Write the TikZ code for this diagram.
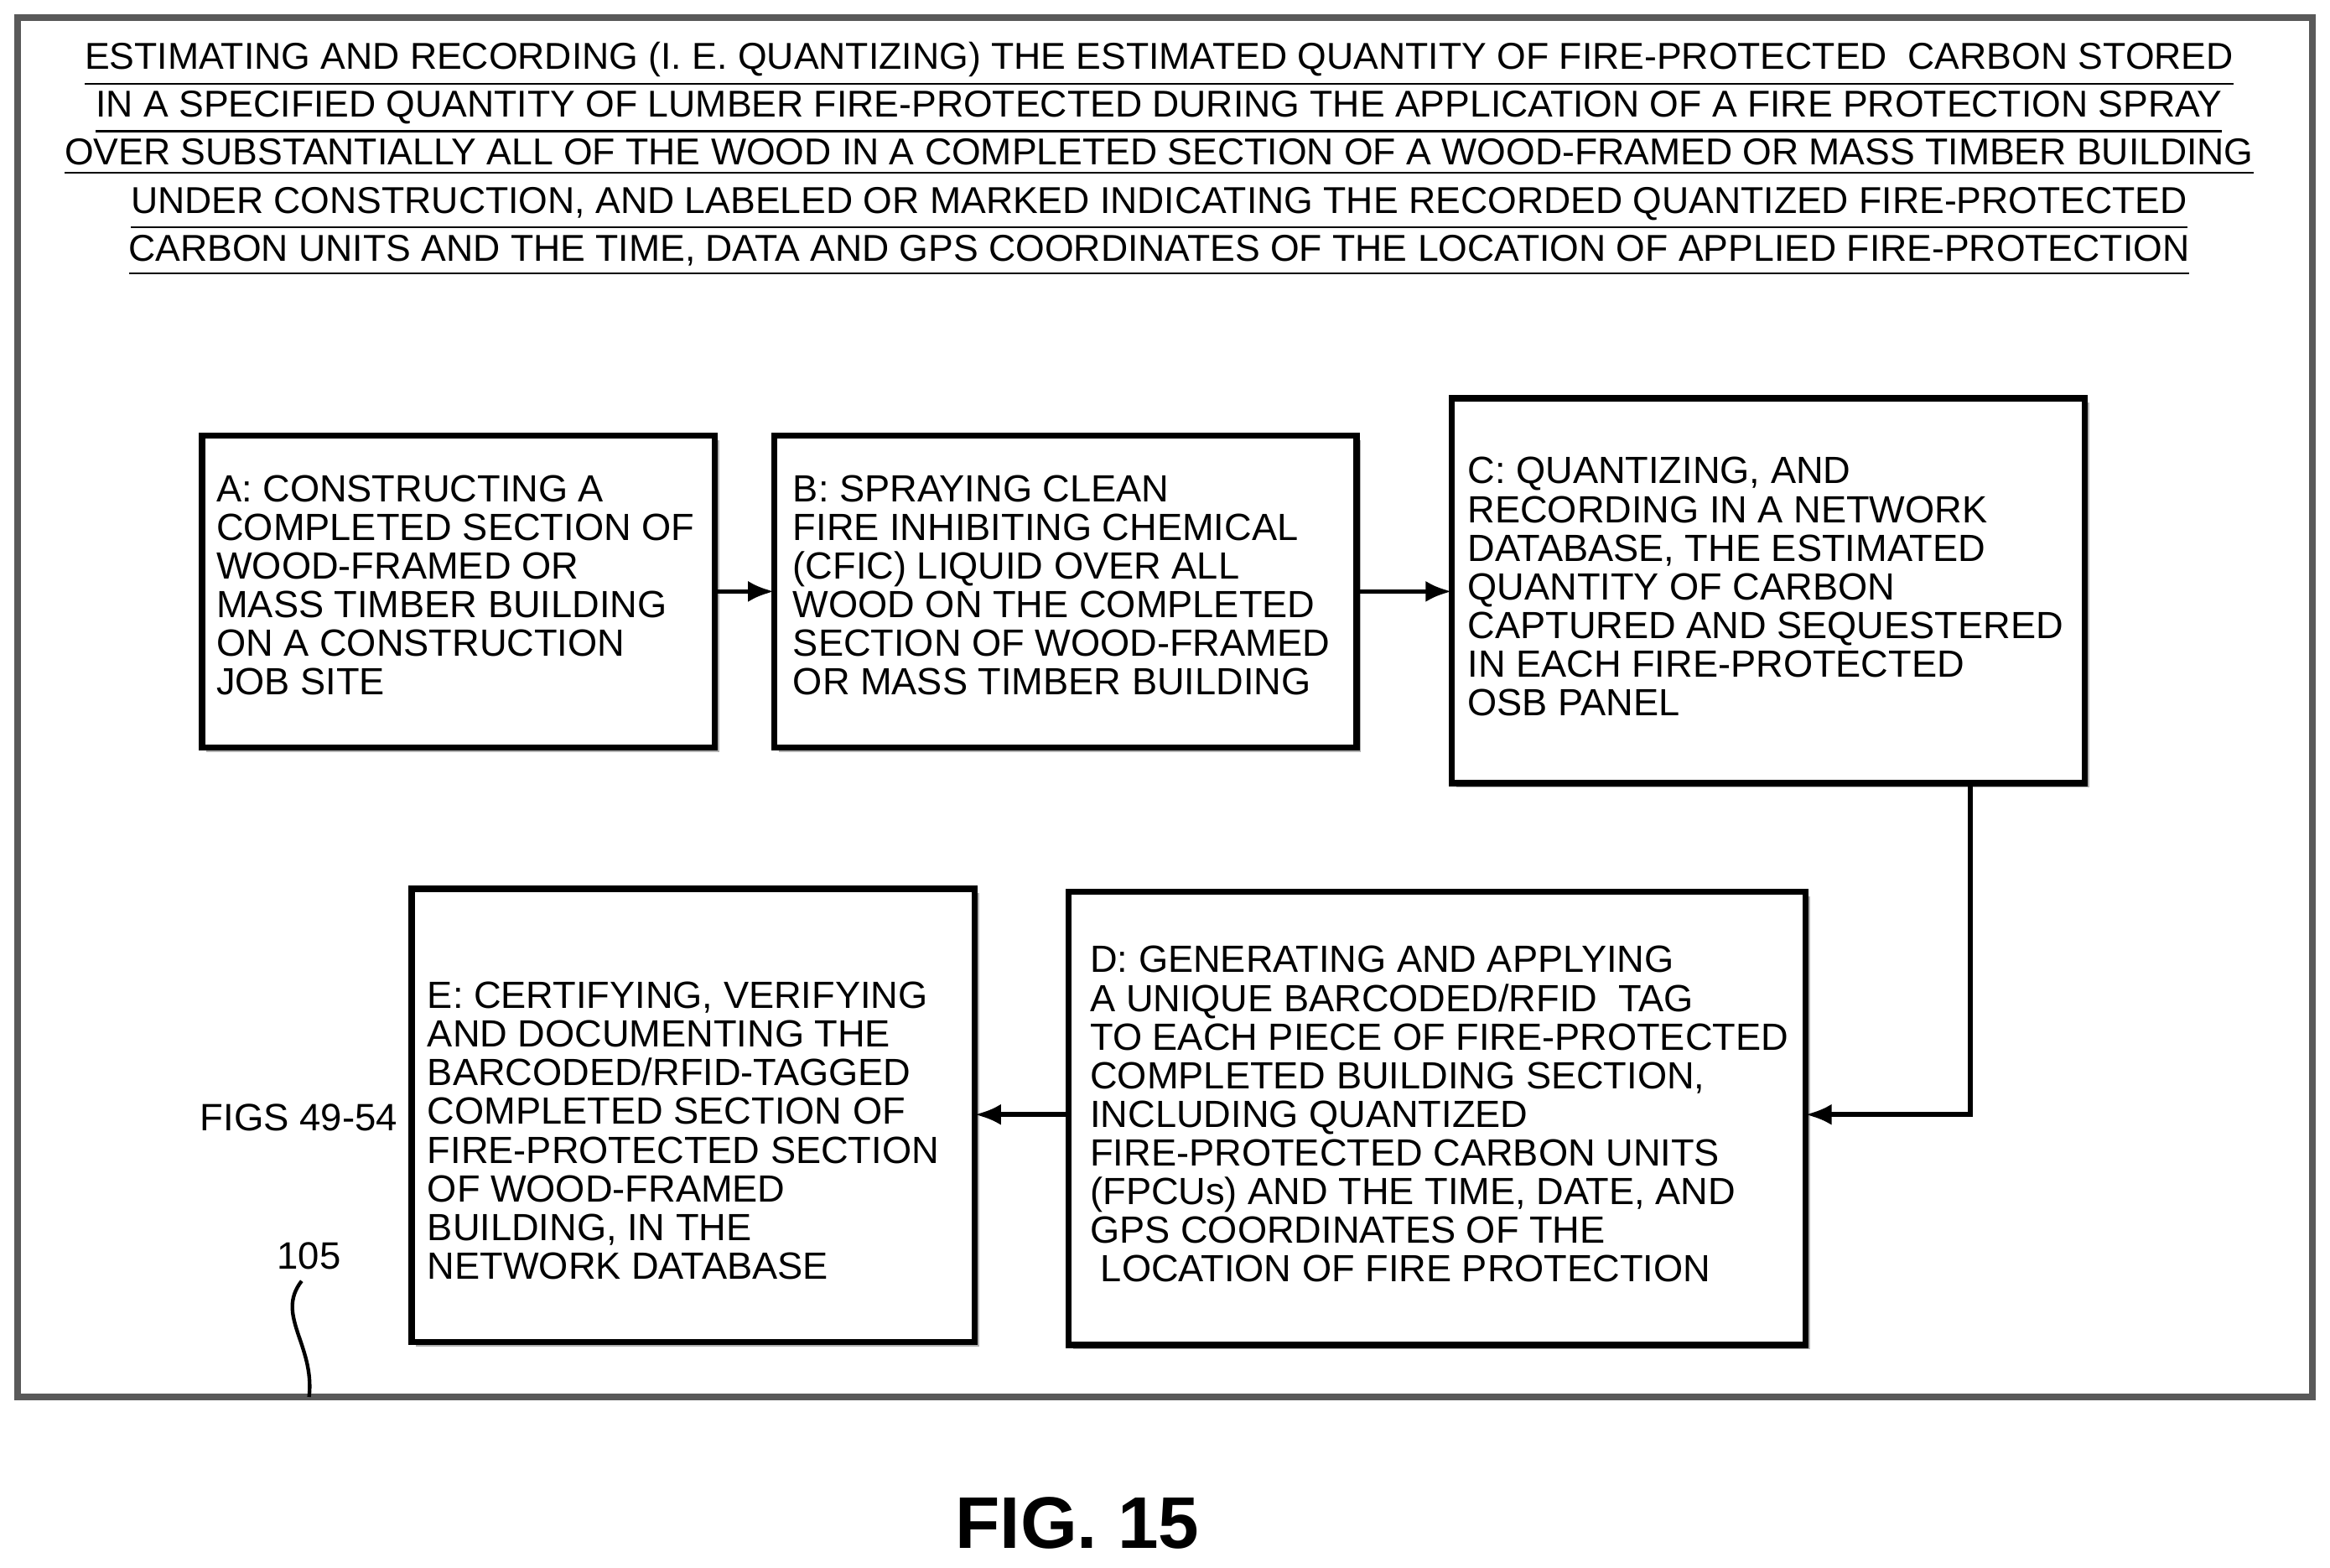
\documentclass[tikz,border=0pt]{standalone}
\usepackage{fontspec}
\usetikzlibrary{arrows.meta}
\setmainfont{Liberation Sans}
\begin{document}
\begin{tikzpicture}[x=0.01cm,y=-0.01cm,
  box/.style={draw,line width=1.2pt,fill=white},
  txt/.style={anchor=north west,align=left,inner sep=0pt,font=\fontsize{7.25pt}{7.4pt}\selectfont},
  ttl/.style={align=center,inner sep=0pt,font=\fontsize{7.15pt}{9.2pt}\selectfont},
  arr/.style={-{Latex[length=5pt,width=4pt]},line width=0.9pt}]
\useasboundingbox (0,0) rectangle (1568,1055);
\draw[line width=1.3pt,gray!70!black] (12,12) rectangle (1556,940);
\node[ttl] (title) at (780,107) {%
\underline{ESTIMATING AND RECORDING (I. E. QUANTIZING) THE ESTIMATED QUANTITY OF FIRE-PROTECTED \ CARBON STORED}\\
\underline{IN A SPECIFIED QUANTITY OF LUMBER FIRE-PROTECTED DURING THE APPLICATION OF A FIRE PROTECTION SPRAY}\\
\underline{OVER SUBSTANTIALLY ALL OF THE WOOD IN A COMPLETED SECTION OF A WOOD-FRAMED OR MASS TIMBER BUILDING}\\
\underline{UNDER CONSTRUCTION, AND LABELED OR MARKED INDICATING THE RECORDED QUANTIZED FIRE-PROTECTED}\\
\underline{CARBON UNITS AND THE TIME, DATA AND GPS COORDINATES OF THE LOCATION OF APPLIED FIRE-PROTECTION}};
% shadows
\foreach \a/\b/\c/\d in {136/293/481/503,521/293/913/503,977/268/1403/527,719/600/1215/905,277/598/656/903}
  \fill[gray!60] (\a+3,\b+3) rectangle (\c+3,\d+3);
\draw[box] (136,293) rectangle (481,503);
\draw[box] (521,293) rectangle (913,503);
\draw[box] (977,268) rectangle (1403,527);
\draw[box] (719,600) rectangle (1215,905);
\draw[box] (277,598) rectangle (656,903);
\coordinate (Ae) at (481,398); \coordinate (Bw) at (521,398);
\coordinate (Be) at (913,398); \coordinate (Cw) at (977,398);
\coordinate (Cs) at (1326,527); \coordinate (De) at (1215,750);
\coordinate (Dw) at (719,750); \coordinate (Ee) at (656,750);
\node[txt] (ta) at (145,319) {A: CONSTRUCTING A\\COMPLETED SECTION OF\\WOOD-FRAMED OR\\MASS TIMBER BUILDING\\ON A CONSTRUCTION\\JOB SITE};
\node[txt] (tb) at (533,319) {B: SPRAYING CLEAN\\FIRE INHIBITING CHEMICAL\\(CFIC) LIQUID OVER ALL\\WOOD ON THE COMPLETED\\SECTION OF WOOD-FRAMED\\OR MASS TIMBER BUILDING};
\node[txt] (tc) at (987,307) {C: QUANTIZING, AND\\RECORDING IN A NETWORK\\DATABASE, THE ESTIMATED\\QUANTITY OF CARBON\\CAPTURED AND SEQUESTERED\\IN EACH FIRE-PROTECTED\\OSB PANEL};
\node[txt] (td) at (733,636) {D: GENERATING AND APPLYING\\A UNIQUE BARCODED/RFID \ TAG\\TO EACH PIECE OF FIRE-PROTECTED\\COMPLETED BUILDING SECTION,\\INCLUDING QUANTIZED\\FIRE-PROTECTED CARBON UNITS\\(FPCUs) AND THE TIME, DATE, AND\\GPS COORDINATES OF THE\\\ LOCATION OF FIRE PROTECTION};
\node[txt] (te) at (287,660) {E: CERTIFYING, VERIFYING\\AND DOCUMENTING THE\\BARCODED/RFID-TAGGED\\COMPLETED SECTION OF\\FIRE-PROTECTED SECTION\\OF WOOD-FRAMED\\BUILDING, IN THE\\NETWORK DATABASE};
\draw[arr] (Ae) -- (Bw);
\draw[arr] (Be) -- (Cw);
\draw[arr] (Cs) |- (De);
\draw[arr] (Dw) -- (Ee);
\node[font=\fontsize{7.3pt}{9pt}\selectfont] (figs) at (201,752) {FIGS 49-54};
\node[font=\fontsize{7.3pt}{9pt}\selectfont] (ref) at (208,845) {105};
\coordinate (r1) at (203,862); \coordinate (r2) at (208,940);
\draw[line width=0.7pt] (r1) .. controls (185,885) and (212,905) .. (r2);
\node[font=\bfseries\fontsize{14pt}{16pt}\selectfont] (fig) at (725,1025) {FIG. 15};
\end{tikzpicture}
\end{document}
